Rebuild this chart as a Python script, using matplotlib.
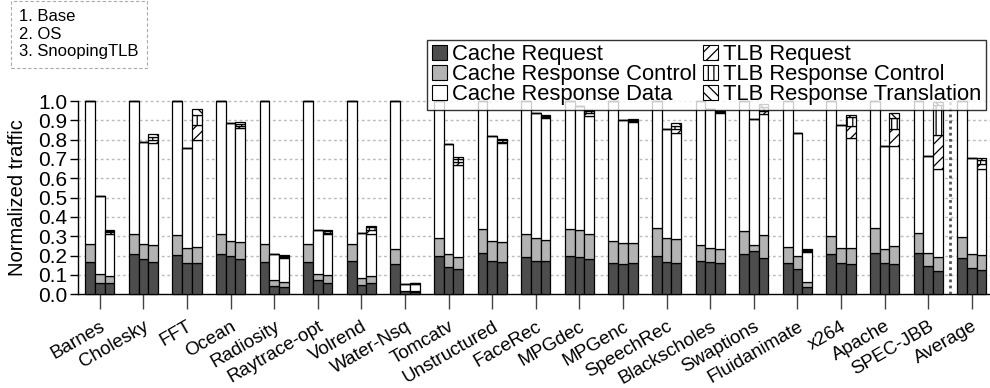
import matplotlib
matplotlib.use("Agg")
import matplotlib.pyplot as plt
from matplotlib.patches import Rectangle
import numpy as np

plt.rcParams['font.family'] = ['Liberation Sans', 'DejaVu Sans']
plt.rcParams['hatch.linewidth'] = 0.9

categories = ["Barnes", "Cholesky", "FFT", "Ocean", "Radiosity", "Raytrace-opt",
              "Volrend", "Water-Nsq", "Tomcatv", "Unstructured", "FaceRec", "MPGdec",
              "MPGenc", "SpeechRec", "Blackscholes", "Swaptions", "Fluidanimate",
              "x264", "Apache", "SPEC-JBB", "Average"]
configs = ["1. Base", "2. OS", "3. SnoopingTLB"]
components = ["Cache Request", "Cache Response Control", "Cache Response Data",
              "TLB Request", "TLB Response Control", "TLB Response Translation"]

# Base configuration
base_req  = [0.169, 0.209, 0.205, 0.209, 0.169, 0.167, 0.171, 0.157, 0.198, 0.214, 0.193,
             0.200, 0.164, 0.200, 0.174, 0.207, 0.164, 0.210, 0.214, 0.212, 0.190]
base_ctrl = [0.091, 0.103, 0.102, 0.101, 0.091, 0.095, 0.091, 0.077, 0.095, 0.122, 0.121,
             0.140, 0.114, 0.141, 0.079, 0.122, 0.079, 0.090, 0.129, 0.107, 0.105]
base_data = [0.740, 0.688, 0.693, 0.690, 0.740, 0.738, 0.738, 0.766, 0.707, 0.664, 0.686,
             0.660, 0.722, 0.659, 0.747, 0.671, 0.757, 0.700, 0.657, 0.681, 0.705]

# OS configuration
os_req  = [0.060, 0.181, 0.162, 0.198, 0.043, 0.074, 0.047, 0.016, 0.141, 0.171, 0.174,
           0.191, 0.157, 0.166, 0.167, 0.226, 0.133, 0.162, 0.160, 0.148, 0.138]
os_ctrl = [0.045, 0.078, 0.078, 0.076, 0.031, 0.033, 0.036, 0.003, 0.069, 0.103, 0.117,
           0.140, 0.107, 0.125, 0.073, 0.027, 0.067, 0.076, 0.076, 0.068, 0.072]
os_data = [0.404, 0.527, 0.519, 0.610, 0.135, 0.226, 0.236, 0.036, 0.566, 0.547, 0.645,
           0.645, 0.639, 0.562, 0.717, 0.652, 0.636, 0.636, 0.531, 0.500, 0.497]

# SnoopingTLB configuration
st_req   = [0.057, 0.169, 0.160, 0.181, 0.040, 0.060, 0.057, 0.014, 0.131, 0.167, 0.171,
            0.183, 0.160, 0.162, 0.164, 0.188, 0.040, 0.159, 0.157, 0.121, 0.126]
st_ctrl  = [0.038, 0.084, 0.087, 0.088, 0.026, 0.042, 0.038, 0.003, 0.064, 0.104, 0.112,
            0.131, 0.107, 0.122, 0.072, 0.117, 0.022, 0.079, 0.091, 0.070, 0.076]
st_data  = [0.217, 0.528, 0.551, 0.590, 0.120, 0.210, 0.217, 0.037, 0.474, 0.513, 0.629,
            0.610, 0.623, 0.549, 0.704, 0.626, 0.159, 0.572, 0.519, 0.456, 0.445]
st_tlbq  = [0.008, 0.015, 0.080, 0.012, 0.006, 0.007, 0.020, 0.001, 0.017, 0.006, 0.005,
            0.015, 0.007, 0.022, 0.003, 0.015, 0.005, 0.060, 0.086, 0.177, 0.028]
st_tlbc  = [0.007, 0.020, 0.050, 0.010, 0.006, 0.008, 0.014, 0.001, 0.014, 0.006, 0.005,
            0.010, 0.007, 0.017, 0.003, 0.025, 0.004, 0.048, 0.061, 0.155, 0.018]
st_tlbt  = [0.006, 0.012, 0.032, 0.009, 0.005, 0.007, 0.009, 0.001, 0.012, 0.007, 0.004,
            0.007, 0.005, 0.012, 0.002, 0.012, 0.004, 0.008, 0.026, 0.014, 0.014]

zeros = [0.0] * len(categories)
series = [
    [base_req, base_ctrl, base_data, zeros, zeros, zeros],
    [os_req, os_ctrl, os_data, zeros, zeros, zeros],
    [st_req, st_ctrl, st_data, st_tlbq, st_tlbc, st_tlbt],
]

faces = ["#4d4d4d", "#b3b3b3", "white", "white", "white", "white"]
hatches = [None, None, None, "///", "|||", "\\\\\\"]

W, H = 9.9, 3.88
fig = plt.figure(figsize=(W, H), dpi=100)
ax = fig.add_axes([78 / 990, 1 - 294.3 / 388, 912 / 990, 193.3 / 388])

n = len(categories)
x = np.arange(n)
bw = 0.222
for j, comps in enumerate(series):
    xs = x + (j - 1) * bw
    bottom = np.zeros(n)
    for k, vals in enumerate(comps):
        v = np.array(vals)
        ax.bar(xs, v, bw, bottom=bottom, color=faces[k], edgecolor="black",
               linewidth=0.9, hatch=hatches[k], zorder=3, clip_on=False)
        bottom += v

ax.set_xlim(-0.5, -0.5 + 912 / 43.6)
ax.set_ylim(0, 1.0)
ax.set_yticks(np.arange(0, 1.01, 0.1))
ax.set_yticklabels([f"{v:.1f}" for v in np.arange(0, 1.01, 0.1)], fontsize=15)
ax.set_xticks(x)
ax.set_xticklabels(categories, rotation=30, ha="right", rotation_mode="anchor",
                   fontsize=13.5)
ax.tick_params(axis="x", length=11, width=1, color="#444444", pad=6)
ax.tick_params(axis="y", length=6, width=1, pad=1.5)
ax.set_ylabel("Normalized traffic", fontsize=14.5, labelpad=8)

for s in ["top", "right"]:
    ax.spines[s].set_visible(False)
ax.spines["left"].set_linewidth(1.0)
ax.spines["bottom"].set_linewidth(1.0)

for yv in np.arange(0.1, 1.01, 0.1):
    ax.axhline(yv, color="#bbbbbb", linestyle=(0, (2, 2)), linewidth=1, zorder=1,
               clip_on=False)

ax.axvline(n - 1.5, ymin=0, ymax=1.0, color="#555555", linestyle=(0, (1, 1.2)),
           linewidth=2, zorder=4)

handles = [Rectangle((0, 0), 1, 1, facecolor=faces[k], edgecolor="black",
                     linewidth=0.8, hatch=hatches[k]) for k in range(6)]
leg = fig.legend(handles, components, ncol=2, loc="upper right",
                 bbox_to_anchor=(986 / 990, 1 - 40 / 388), fontsize=15.8,
                 frameon=True, fancybox=False, edgecolor="black",
                 handlelength=0.7, handleheight=0.7, handletextpad=0.25,
                 columnspacing=0.25, labelspacing=-0.05, borderpad=0.2,
                 borderaxespad=0)
leg.get_frame().set_linewidth(1.0)

fig.text(19 / 990, 1 - 9 / 388, "\n".join(configs), fontsize=12, va="top",
         ha="left", linespacing=1.22,
         bbox=dict(boxstyle="square,pad=0.5", facecolor="white",
                   edgecolor="#aaaaaa", linestyle=(0, (3, 2)), linewidth=0.8))

fig.savefig("out.png", dpi=100)
